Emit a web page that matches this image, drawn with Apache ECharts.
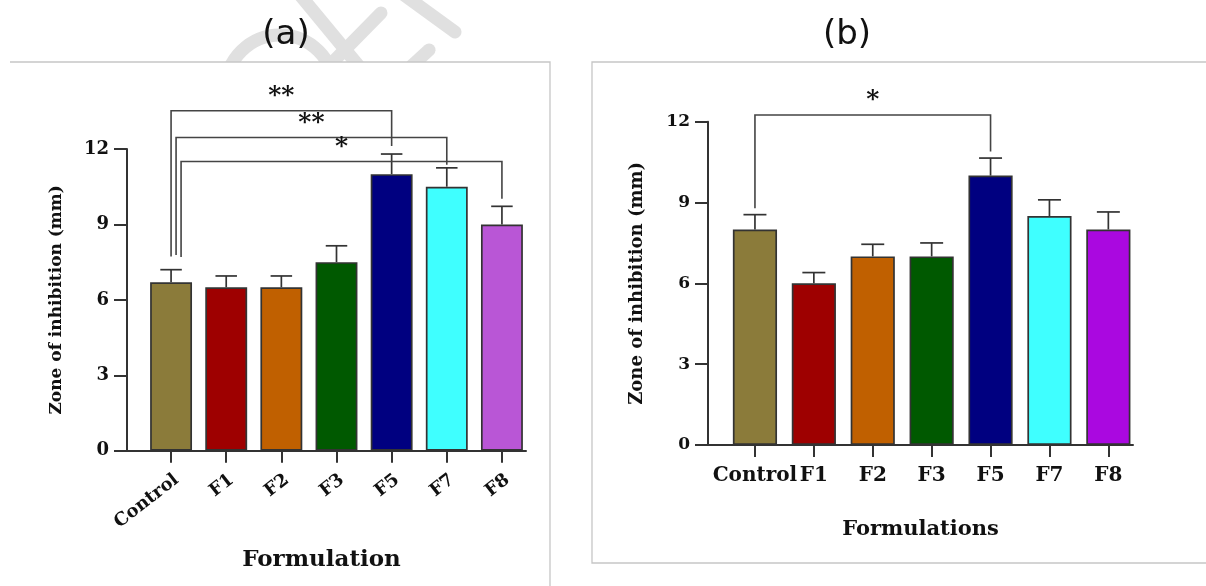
<!DOCTYPE html>
<html>
<head>
<meta charset="utf-8">
<script src="https://cdn.jsdelivr.net/npm/echarts@6/dist/echarts.min.js"></script>
<style>
html,body{margin:0;padding:0;background:#fff;}
#chart{width:1206px;height:586px;}
</style>
</head>
<body>
<div id="chart"></div>
<script>
// ---------- data ----------
const categories = ['Control', 'F1', 'F2', 'F3', 'F5', 'F7', 'F8'];
const yTicks = [0, 3, 6, 9, 12];

const meanA = [6.7, 6.5, 6.5, 7.5, 11.0, 10.5, 9.0];
const sdA   = [0.5, 0.45, 0.45, 0.65, 0.8, 0.75, 0.72];
const meanB = [8.0, 6.0, 7.0, 7.0, 10.0, 8.5, 8.0];
const sdB   = [0.55, 0.4, 0.45, 0.5, 0.65, 0.6, 0.65];

const colorsA = ['#8B7B3A', '#9E0000', '#C06000', '#005900', '#000080', '#3FFFFF', '#B956D6'];
const colorsB = ['#8B7B3A', '#9E0000', '#C06000', '#005900', '#000080', '#3FFFFF', '#AA08E0'];

// significance brackets (category index from/to, bracket height, leg end heights, label)
const bracketFromA  = [0, 0, 0];
const bracketToA    = [4, 5, 6];
const bracketYA     = [13.52, 12.46, 11.5];
const bracketLeftA  = [7.72, 7.78, 7.7];
const bracketRightA = [12.12, 11.37, 10.02];
const bracketLabelA = ['**', '**', '*'];

const bracketFromB  = [0];
const bracketToB    = [4];
const bracketYB     = [12.25];
const bracketLeftB  = [8.79];
const bracketRightB = [10.89];
const bracketLabelB = ['*'];

// ---------- styles ----------
const SERIF = '"DejaVu Serif", "Liberation Serif", serif';
const AX = '#333';
const leftLegShiftA = [0, 5, 10];

function errorRender(params, api) {
  const i = api.value(0), m = api.value(1), s = api.value(2);
  const p0 = api.coord([i, m]);
  const p1 = api.coord([i, m + s]);
  const cap = api.size([1, 0])[0] * 0.39;
  return {
    type: 'group',
    children: [
      { type: 'line', shape: { x1: p0[0], y1: p0[1], x2: p1[0], y2: p1[1] },
        style: { stroke: AX, lineWidth: 1.7 } },
      { type: 'line', shape: { x1: p1[0] - cap / 2, y1: p1[1], x2: p1[0] + cap / 2, y2: p1[1] },
        style: { stroke: AX, lineWidth: 1.7 } }
    ]
  };
}

function bracketRenderFactory(labels, shifts) {
  return function (params, api) {
    const f = api.value(0), t = api.value(1), y = api.value(2), yl = api.value(3), yr = api.value(4);
    const k = params.dataIndex;
    const dx = shifts ? shifts[k] : 0;
    const pl = api.coord([f, y]);
    const pr = api.coord([t, y]);
    const plEnd = api.coord([f, yl]);
    const prEnd = api.coord([t, yr]);
    const xl = pl[0] + dx;
    return {
      type: 'group',
      children: [
        { type: 'polyline',
          shape: { points: [[xl, plEnd[1]], [xl, pl[1]], [pr[0], pr[1]], [prEnd[0], prEnd[1]]] },
          style: { stroke: '#444', lineWidth: 1.6, fill: null } },
        { type: 'text',
          style: { text: labels[k], x: (xl + pr[0]) / 2, y: pl[1] - 14,
                   align: 'center', verticalAlign: 'middle',
                   font: 'bold 25px ' + SERIF, fill: '#111' } }
      ]
    };
  };
}

function barData(means, colors) {
  return means.map((v, i) => ({ value: v, itemStyle: { color: colors[i] } }));
}

const chart = echarts.init(document.getElementById('chart'));

const yAxisVisible = (grid, fontSize, nameSize) => ({
  gridIndex: grid, type: 'value', min: 0, max: 12, interval: 3,
  axisLine: { show: true, lineStyle: { color: AX, width: 2 } },
  axisTick: { show: true, length: 13, lineStyle: { color: AX, width: 2 } },
  axisLabel: { margin: 18, fontFamily: SERIF, fontWeight: 'bold', fontSize: fontSize, color: '#111',
    customValues: yTicks },
  splitLine: { show: false },
  name: 'Zone of inhibition (mm)', nameLocation: 'middle', nameGap: 62,
  nameTextStyle: { fontFamily: SERIF, fontWeight: 'bold', fontSize: nameSize, color: '#111' }
});

const option = {
  animation: false,
  backgroundColor: '#fff',
  grid: [
    { left: 143.5, top: 149, width: 386, height: 301.7 },
    { left: 127, top: 149, width: 399, height: 301.7 },
    { left: 725.5, top: 121.7, width: 412.3, height: 323.3 },
    { left: 708, top: 121.7, width: 425, height: 323.3 }
  ],
  xAxis: [
    { gridIndex: 0, type: 'category', data: categories,
      axisLine: { show: false },
      axisTick: { show: true, alignWithLabel: true, length: 12, lineStyle: { color: AX, width: 2 } },
      axisLabel: { interval: 0, rotate: 38, margin: 20, verticalAlign: 'top', fontFamily: SERIF, fontWeight: 'bold',
                   fontSize: 18, color: '#111' } },
    { gridIndex: 1, type: 'value', min: 0, max: 1,
      axisLine: { show: true, onZero: false, lineStyle: { color: AX, width: 2 } },
      axisTick: { show: false }, axisLabel: { show: false }, splitLine: { show: false },
      name: 'Formulation', nameLocation: 'middle', nameGap: 98,
      nameTextStyle: { fontFamily: SERIF, fontWeight: 'bold', fontSize: 23, color: '#111',
                       padding: [0, 10, 0, 0] } },
    { gridIndex: 2, type: 'category', data: categories,
      axisLine: { show: false },
      axisTick: { show: true, alignWithLabel: true, length: 12, lineStyle: { color: AX, width: 2 } },
      axisLabel: { interval: 0, margin: 21, fontFamily: SERIF, fontWeight: 'bold',
                   fontSize: 20, color: '#111' } },
    { gridIndex: 3, type: 'value', min: 0, max: 1,
      axisLine: { show: true, onZero: false, lineStyle: { color: AX, width: 2 } },
      axisTick: { show: false }, axisLabel: { show: false }, splitLine: { show: false },
      name: 'Formulations', nameLocation: 'middle', nameGap: 74,
      nameTextStyle: { fontFamily: SERIF, fontWeight: 'bold', fontSize: 21, color: '#111' } }
  ],
  yAxis: [
    { gridIndex: 0, type: 'value', min: 0, max: 12, show: false },
    yAxisVisible(1, 18, 17),
    { gridIndex: 2, type: 'value', min: 0, max: 12, show: false },
    yAxisVisible(3, 17, 18)
  ],
  series: [
    { type: 'bar', xAxisIndex: 0, yAxisIndex: 0, data: barData(meanA, colorsA),
      barWidth: '76%', itemStyle: { borderColor: AX, borderWidth: 1.7 }, z: 2 },
    { type: 'custom', xAxisIndex: 0, yAxisIndex: 0, renderItem: errorRender, z: 3,
      data: meanA.map((m, i) => [i, m, sdA[i]]) },
    { type: 'custom', xAxisIndex: 0, yAxisIndex: 0, z: 3,
      renderItem: bracketRenderFactory(bracketLabelA, leftLegShiftA),
      data: bracketFromA.map((f, k) => [f, bracketToA[k], bracketYA[k], bracketLeftA[k], bracketRightA[k]]) },
    { type: 'bar', xAxisIndex: 2, yAxisIndex: 2, data: barData(meanB, colorsB),
      barWidth: '75%', itemStyle: { borderColor: AX, borderWidth: 1.7 }, z: 2 },
    { type: 'custom', xAxisIndex: 2, yAxisIndex: 2, renderItem: errorRender, z: 3,
      data: meanB.map((m, i) => [i, m, sdB[i]]) },
    { type: 'custom', xAxisIndex: 2, yAxisIndex: 2, z: 3,
      renderItem: bracketRenderFactory(bracketLabelB, null),
      data: bracketFromB.map((f, k) => [f, bracketToB[k], bracketYB[k], bracketLeftB[k], bracketRightB[k]]) }
  ],
  graphic: [
    // faint watermark strokes
    { type: 'circle', z: -20, shape: { cx: 280, cy: 89.4, r: 54.4 },
      style: { fill: null, stroke: '#e0e0e0', lineWidth: 13 } },
    { type: 'line', z: -20, shape: { x1: 300, y1: -5, x2: 362, y2: 70 },
      style: { stroke: '#e0e0e0', lineWidth: 13, lineCap: 'round' } },
    { type: 'line', z: -20, shape: { x1: 381, y1: 13, x2: 325, y2: 70 },
      style: { stroke: '#e0e0e0', lineWidth: 13, lineCap: 'round' } },
    { type: 'line', z: -20, shape: { x1: 400, y1: -8, x2: 455, y2: 32 },
      style: { stroke: '#e0e0e0', lineWidth: 13, lineCap: 'round' } },
    { type: 'line', z: -20, shape: { x1: 429, y1: 50, x2: 405, y2: 72 },
      style: { stroke: '#e0e0e0', lineWidth: 13, lineCap: 'round' } },
    // panel frames
    { type: 'rect', z: -10, shape: { x: 10, y: 62, width: 540, height: 540 },
      style: { fill: '#fff', stroke: null } },
    { type: 'polyline', z: -9, shape: { points: [[10, 62], [550, 62], [550, 590]] },
      style: { fill: null, stroke: '#c6c6c6', lineWidth: 1.3 } },
    { type: 'rect', z: -10, shape: { x: 592, y: 62, width: 700, height: 501 },
      style: { fill: '#fff', stroke: '#c6c6c6', lineWidth: 1.3 } },
    // panel titles
    { type: 'text', z: 5, style: { text: '(a)', x: 286, y: 35, align: 'center', verticalAlign: 'middle',
        font: '34px "DejaVu Sans", sans-serif', fill: '#111' } },
    { type: 'text', z: 5, style: { text: '(b)', x: 847, y: 35, align: 'center', verticalAlign: 'middle',
        font: '34px "DejaVu Sans", sans-serif', fill: '#111' } }
  ]
};
chart.setOption(option);
</script>
</body>
</html>
